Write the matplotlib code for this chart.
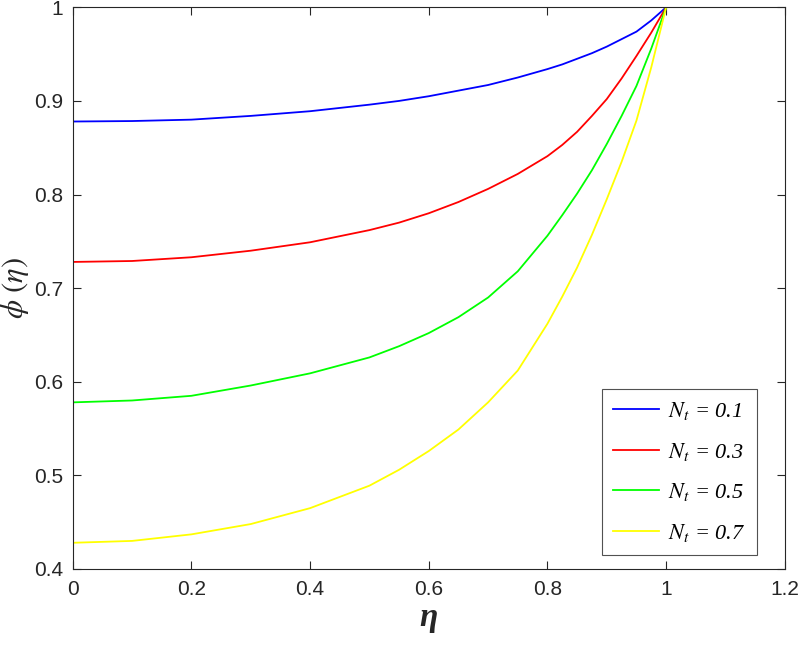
import matplotlib
matplotlib.use("Agg")
import matplotlib.pyplot as plt

eta = [0.0, 0.1, 0.2, 0.3, 0.4, 0.5, 0.55, 0.6, 0.65, 0.7, 0.75, 0.8, 0.825, 0.85, 0.875,
       0.9, 0.925, 0.95, 0.975, 1.0]
phi_nt01 = [0.878, 0.8785, 0.880, 0.884, 0.889, 0.896, 0.900, 0.905, 0.911, 0.917, 0.925, 0.934,
            0.939, 0.945, 0.951, 0.958, 0.966, 0.974, 0.986, 1.0]
phi_nt03 = [0.728, 0.729, 0.733, 0.740, 0.749, 0.762, 0.770, 0.780, 0.792, 0.806, 0.822, 0.841,
            0.853, 0.867, 0.884, 0.902, 0.924, 0.948, 0.973, 1.0]
phi_nt05 = [0.578, 0.580, 0.585, 0.596, 0.609, 0.626, 0.638, 0.652, 0.669, 0.690, 0.718, 0.756,
            0.778, 0.801, 0.826, 0.854, 0.884, 0.916, 0.956, 1.0]
phi_nt07 = [0.428, 0.430, 0.437, 0.448, 0.465, 0.489, 0.506, 0.526, 0.549, 0.578, 0.612, 0.662,
            0.691, 0.722, 0.757, 0.795, 0.835, 0.879, 0.936, 1.0]
labels = [r'$N_t$ = 0.1', r'$N_t$ = 0.3', r'$N_t$ = 0.5', r'$N_t$ = 0.7']
colors = ['#0000ff', '#ff0000', '#00ff00', '#ffff00']
xticks = [0, 0.2, 0.4, 0.6, 0.8, 1, 1.2]
xticklabels = ['0', '0.2', '0.4', '0.6', '0.8', '1', '1.2']
yticks = [0.4, 0.5, 0.6, 0.7, 0.8, 0.9, 1]
yticklabels = ['0.4', '0.5', '0.6', '0.7', '0.8', '0.9', '1']

plt.rcParams['mathtext.fontset'] = 'stix'
plt.rcParams['font.family'] = ['Liberation Sans', 'DejaVu Sans']

fig = plt.figure(figsize=(8, 6.46), dpi=100)
ax = fig.add_axes([0.0909, 0.1192, 0.981 - 0.0909, 0.9887 - 0.1192])

for ys, c, lab in zip([phi_nt01, phi_nt03, phi_nt05, phi_nt07], colors, labels):
    ax.plot(eta, ys, color=c, lw=1.3, label=lab)

ax.set_xlim(0, 1.2)
ax.set_ylim(0.4, 1.0)
ax.set_xticks(xticks)
ax.set_xticklabels(xticklabels)
ax.set_yticks(yticks)
ax.set_yticklabels(yticklabels)
dark = '#262626'
ax.tick_params(direction='in', top=True, right=True, length=6, width=0.8,
               colors=dark, labelsize=15)
ax.tick_params(axis='x', pad=8)
ax.tick_params(axis='y', pad=7)
for s in ax.spines.values():
    s.set_color(dark)
    s.set_linewidth(0.8)

ax.set_xlabel('η', fontsize=24, color=dark, labelpad=2,
              family='Liberation Serif', style='italic', weight='bold')
ax.set_ylabel(r'$\phi\ (\eta)$', fontsize=22, color=dark, labelpad=2)

leg = ax.legend(loc='lower right', bbox_to_anchor=(0.9607, 0.0249), borderaxespad=0,
                prop={'family': 'Liberation Serif', 'style': 'italic', 'size': 16},
                handlelength=2.1, labelspacing=0.84, frameon=True,
                fancybox=False, edgecolor=dark, borderpad=0.5, handletextpad=0.4)
leg.get_frame().set_linewidth(0.8)

fig.savefig('out.png', dpi=100)
